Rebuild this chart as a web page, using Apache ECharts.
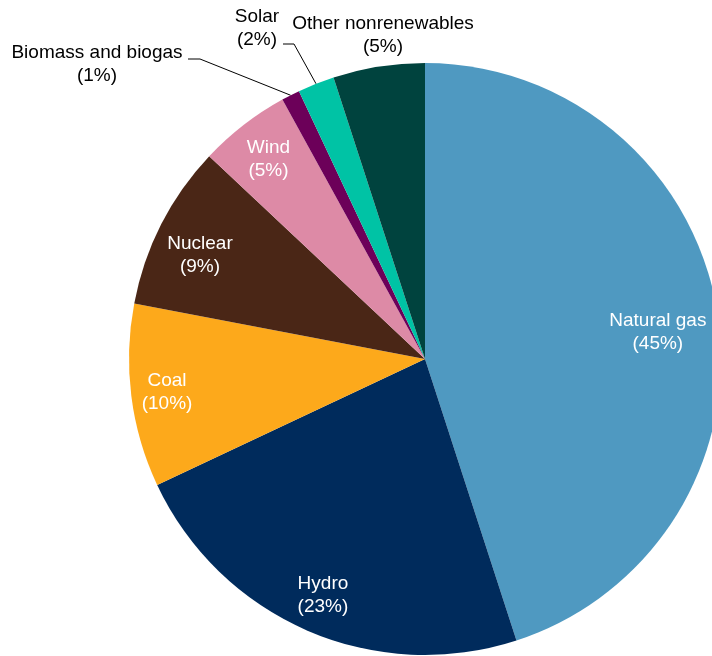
<!DOCTYPE html>
<html>
<head>
<meta charset="utf-8">
<script src="https://cdn.jsdelivr.net/npm/echarts@6/dist/echarts.min.js"></script>
<style>
  html, body { margin: 0; padding: 0; background: #ffffff; }
  #chart { width: 712px; height: 656px; }
</style>
</head>
<body>
<div id="chart"></div>
<script>
// Electricity generation share by source (percent), clockwise from 12 o'clock
const sources = ['Natural gas', 'Hydro', 'Coal', 'Nuclear', 'Wind', 'Biomass and biogas', 'Solar', 'Other nonrenewables'];
const shares = [45, 23, 10, 9, 5, 1, 2, 5];
const sliceColors = ['#4f99c1', '#002b5c', '#fda91b', '#4a2616', '#dd8aa6', '#6c0059', '#00c3a5', '#00433e'];
// Sources whose labels sit outside the pie
const outsideSources = ['Biomass and biogas', 'Solar', 'Other nonrenewables'];

const FONT = '"Liberation Sans", Arial, sans-serif';
const CENTER = [425, 359];
const RADIUS = 296;

const chart = echarts.init(document.getElementById('chart'), null, { renderer: 'canvas' });

const labelText = p => p.name + '\n(' + p.value + '%)';

// Slices, with the small-slice labels placed outside
const sliceData = sources.map((name, i) => {
  const outside = outsideSources.includes(name);
  return {
    name,
    value: shares[i],
    itemStyle: { color: sliceColors[i] },
    label: { show: outside },
    labelLine: { show: outside && name !== 'Other nonrenewables' }
  };
});

// Placement of the outside labels relative to each slice's outer edge point
const outsidePlacement = {
  'Biomass and biogas': { x: 97, y: 64, bend: [200, 59], end: [188, 59] },
  'Solar': { x: 257, y: 28, bend: [294, 44], end: [283, 44] },
  'Other nonrenewables': { x: 383, y: 35 }
};

// Small nudges of the inside labels away from the ring's mid-radius
const insideNudge = {
  'Natural gas': [-21, 13],
  'Coal': [-3, 1],
  'Nuclear': [4, 13],
  'Wind': [1, 3]
};

// Transparent ring that carries the white inside labels
const ringData = sources.map((name, i) => ({
  name,
  value: shares[i],
  itemStyle: { color: 'rgba(0,0,0,0)' },
  label: { show: !outsideSources.includes(name) }
}));

chart.setOption({
  animation: false,
  backgroundColor: '#ffffff',
  series: [
    {
      type: 'pie',
      center: CENTER,
      radius: [0, RADIUS],
      startAngle: 90,
      clockwise: true,
      avoidLabelOverlap: false,
      silent: true,
      itemStyle: { borderWidth: 0 },
      label: {
        position: 'outside',
        formatter: labelText,
        color: '#000000',
        fontFamily: FONT,
        fontSize: 19,
        lineHeight: 23,
        align: 'center'
      },
      labelLine: { lineStyle: { color: '#000000', width: 1 } },
      labelLayout: function (p) {
        const name = sources[p.dataIndex];
        const pl = outsidePlacement[name];
        if (!pl) return {};
        const out = { x: pl.x, y: pl.y, align: 'center', verticalAlign: 'middle' };
        if (pl.bend && p.labelLinePoints) {
          out.labelLinePoints = [p.labelLinePoints[0], pl.bend, pl.end];
        }
        return out;
      },
      data: sliceData
    },
    {
      type: 'pie',
      center: CENTER,
      radius: [208, 300],
      startAngle: 90,
      clockwise: true,
      avoidLabelOverlap: false,
      silent: true,
      label: {
        position: 'inside',
        formatter: labelText,
        color: '#ffffff',
        fontFamily: FONT,
        fontSize: 19,
        lineHeight: 23,
        align: 'center'
      },
      labelLine: { show: false },
      labelLayout: function (p) {
        const n = insideNudge[sources[p.dataIndex]];
        return n ? { dx: n[0], dy: n[1] } : {};
      },
      data: ringData
    }
  ]
});
</script>
</body>
</html>
